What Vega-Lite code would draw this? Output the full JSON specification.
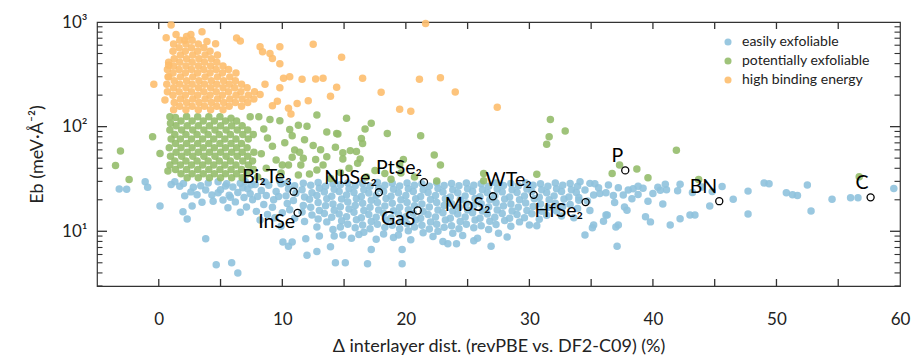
{
"$schema": "https://vega.github.io/schema/vega-lite/v6.json",
"width": 803, "height": 264,
"autosize": {"type": "none"},
"padding": {"left": 97, "top": 22, "right": 13, "bottom": 73},
"background": "white",
"config": {
 "view": {"stroke": "#333", "strokeWidth": 1.2},
 "font": "Lato",
 "axis": {"domain": false, "grid": false, "ticks": true, "tickSize": 0, "tickOpacity": 0, "labelFont": "Lato", "labelFontSize": 17, "labelColor": "#222", "titleFont": "Lato", "titleFontSize": 18, "titleFontWeight": "normal", "titleColor": "#222", "labelFlush": false, "labelOverlap": false},
 "legend": {"labelFont": "Lato"}
},
"datasets": {
"pts": [
{"x":-3.2,"y":25.3,"g":"E"},{"x":-2.6,"y":25.2,"g":"E"},{"x":-1.1,"y":29.7,"g":"E"},{"x":-0.9,"y":26.3,"g":"E"},{"x":0.1,"y":17.4,"g":"E"},{"x":1.3,"y":29.7,"g":"E"},{"x":1.7,"y":27,"g":"E"},{"x":2.1,"y":21.8,"g":"E"},{"x":1.96,"y":15.4,"g":"E"},{"x":2.3,"y":13.1,"g":"E"},{"x":2.8,"y":26.3,"g":"E"},{"x":3.8,"y":24.8,"g":"E"},{"x":4.3,"y":22.2,"g":"E"},{"x":3.8,"y":8.5,"g":"E"},{"x":4.65,"y":4.8,"g":"E"},{"x":5.9,"y":5,"g":"E"},{"x":6.4,"y":4,"g":"E"},{"x":1,"y":28,"g":"E"},{"x":2,"y":28.6,"g":"E"},{"x":2.6,"y":23.8,"g":"E"},{"x":3.4,"y":27.3,"g":"E"},{"x":3.1,"y":22.4,"g":"E"},{"x":4,"y":28.9,"g":"E"},{"x":4.8,"y":23.3,"g":"E"},{"x":5.4,"y":27.1,"g":"E"},{"x":4.4,"y":19.4,"g":"E"},{"x":5.8,"y":21.1,"g":"E"},{"x":6.8,"y":26.1,"g":"E"},{"x":7.5,"y":27.9,"g":"E"},{"x":3.5,"y":18.9,"g":"E"},{"x":2.7,"y":17.4,"g":"E"},
{"x":5,"y":25,"g":"E"},{"x":5.2,"y":19.9,"g":"E"},{"x":5.7,"y":22.1,"g":"E"},{"x":6.2,"y":19.1,"g":"E"},{"x":6.9,"y":21,"g":"E"},{"x":7.1,"y":17.1,"g":"E"},{"x":7.6,"y":20,"g":"E"},{"x":7.9,"y":15.5,"g":"E"},{"x":8.5,"y":18,"g":"E"},{"x":8.8,"y":14.5,"g":"E"},{"x":9.3,"y":20,"g":"E"},{"x":10,"y":15,"g":"E"},{"x":5.5,"y":28.5,"g":"E"},{"x":6,"y":26.5,"g":"E"},{"x":6.6,"y":28.8,"g":"E"},{"x":7.2,"y":25.5,"g":"E"},{"x":7.8,"y":28,"g":"E"},{"x":8.3,"y":24.5,"g":"E"},{"x":8.9,"y":27.5,"g":"E"},{"x":9.5,"y":24,"g":"E"},{"x":9.9,"y":28.5,"g":"E"},{"x":6.4,"y":23.5,"g":"E"},{"x":7.4,"y":22.8,"g":"E"},{"x":8,"y":21.5,"g":"E"},{"x":8.7,"y":22,"g":"E"},{"x":9.2,"y":17,"g":"E"},{"x":9.7,"y":21.5,"g":"E"},{"x":5.6,"y":16.8,"g":"E"},{"x":6.6,"y":15.2,"g":"E"},{"x":8.2,"y":12.8,"g":"E"},{"x":9.4,"y":13.5,"g":"E"},{"x":9.9,"y":11.2,"g":"E"},{"x":10.05,"y":7.9,"g":"E"},{"x":10.8,"y":7.9,"g":"E"},{"x":10.5,"y":7.2,"g":"E"},{"x":4.8,"y":29.8,"g":"E"},{"x":7,"y":29.9,"g":"E"},{"x":8.6,"y":29.6,"g":"E"},{"x":9.8,"y":30.2,"g":"E"},
{"x":12,"y":5.9,"g":"E"},{"x":12.8,"y":6.4,"g":"E"},{"x":11.9,"y":8.5,"g":"E"},{"x":13.9,"y":7.1,"g":"E"},{"x":14.3,"y":5,"g":"E"},{"x":15.1,"y":5,"g":"E"},{"x":16.9,"y":4.9,"g":"E"},{"x":19.7,"y":4.9,"g":"E"},{"x":17.2,"y":6.7,"g":"E"},{"x":19.7,"y":6.7,"g":"E"},{"x":23.4,"y":7.6,"g":"E"},{"x":24.1,"y":7.6,"g":"E"},{"x":26.9,"y":7.2,"g":"E"},{"x":25.5,"y":8.1,"g":"E"},{"x":37.1,"y":7.2,"g":"E"},{"x":28.2,"y":8.8,"g":"E"},{"x":14.9,"y":9.2,"g":"E"},{"x":14.2,"y":9,"g":"E"},
{"x":13,"y":9,"g":"E"},{"x":15.6,"y":8.6,"g":"E"},{"x":16.2,"y":9.3,"g":"E"},{"x":17.6,"y":8.4,"g":"E"},{"x":19,"y":8.7,"g":"E"},{"x":20.4,"y":8.3,"g":"E"},{"x":22.2,"y":8.9,"g":"E"},{"x":23,"y":8,"g":"E"},{"x":24.6,"y":9.1,"g":"E"},{"x":25.8,"y":8.6,"g":"E"},{"x":27.5,"y":9.6,"g":"E"},
{"x":34.1,"y":29.7,"g":"E"},{"x":34.9,"y":28.7,"g":"E"},{"x":35.3,"y":28.5,"g":"E"},{"x":34.5,"y":24.8,"g":"E"},{"x":35.2,"y":22.2,"g":"E"},{"x":35.7,"y":23,"g":"E"},{"x":36.2,"y":23.3,"g":"E"},{"x":36.4,"y":27.7,"g":"E"},{"x":36.8,"y":22,"g":"E"},{"x":37.2,"y":26.1,"g":"E"},{"x":37.6,"y":22.2,"g":"E"},{"x":38,"y":24.8,"g":"E"},{"x":38.4,"y":25.5,"g":"E"},{"x":38.8,"y":27,"g":"E"},{"x":38.8,"y":22.5,"g":"E"},{"x":40,"y":23,"g":"E"},{"x":40.4,"y":26.3,"g":"E"},{"x":41,"y":28.2,"g":"E"},{"x":41.1,"y":25,"g":"E"},{"x":40.6,"y":24.7,"g":"E"},{"x":42.2,"y":28.2,"g":"E"},{"x":42,"y":24.4,"g":"E"},{"x":40.8,"y":18.2,"g":"E"},{"x":37.7,"y":17.1,"g":"E"},{"x":37.9,"y":15.9,"g":"E"},{"x":36.2,"y":14.3,"g":"E"},{"x":35.2,"y":11.5,"g":"E"},{"x":35.1,"y":10.8,"g":"E"},{"x":36,"y":12.5,"g":"E"},{"x":37.2,"y":11.5,"g":"E"},{"x":39.4,"y":13.8,"g":"E"},{"x":39.8,"y":12.3,"g":"E"},{"x":41.4,"y":11.5,"g":"E"},{"x":42.2,"y":13.2,"g":"E"},{"x":43,"y":14.3,"g":"E"},{"x":43.4,"y":14.3,"g":"E"},{"x":44.6,"y":17.4,"g":"E"},{"x":46.5,"y":20.2,"g":"E"},{"x":47.7,"y":24.2,"g":"E"},{"x":47.7,"y":14.6,"g":"E"},{"x":49,"y":29,"g":"E"},{"x":49.4,"y":28.5,"g":"E"},{"x":50.8,"y":23.3,"g":"E"},{"x":51.3,"y":22.4,"g":"E"},{"x":51.7,"y":22,"g":"E"},{"x":52.5,"y":27.7,"g":"E"},{"x":52.8,"y":15.6,"g":"E"},{"x":54.5,"y":20.2,"g":"E"},{"x":56,"y":20.9,"g":"E"},{"x":56.6,"y":20.9,"g":"E"},{"x":59.5,"y":25.7,"g":"E"},
{"x":30,"y":11.5,"g":"E"},{"x":30.6,"y":11.3,"g":"E"},{"x":34.5,"y":9.2,"g":"E"},{"x":36.3,"y":14.3,"g":"E"},{"x":37,"y":11,"g":"E"},{"x":34,"y":21,"g":"E"},{"x":34.7,"y":19.5,"g":"E"},{"x":35.6,"y":26,"g":"E"},{"x":36.9,"y":18.8,"g":"E"},{"x":38.3,"y":20.5,"g":"E"},{"x":39.2,"y":25.8,"g":"E"},{"x":39.6,"y":19.4,"g":"E"},{"x":43.2,"y":23.5,"g":"E"},{"x":44,"y":26.5,"g":"E"},{"x":44.8,"y":24,"g":"E"},{"x":45.6,"y":26.8,"g":"E"},{"x":33.6,"y":13.5,"g":"E"},{"x":34.9,"y":15.8,"g":"E"},
{"x":10.4,"y":29,"g":"E"},{"x":10.5,"y":25.3,"g":"E"},{"x":10.3,"y":21.8,"g":"E"},{"x":10.4,"y":18.4,"g":"E"},{"x":10.6,"y":16.1,"g":"E"},
{"x":11,"y":27.2,"g":"E"},{"x":11.1,"y":23.1,"g":"E"},{"x":10.9,"y":19.7,"g":"E"},{"x":11,"y":13.3,"g":"E"},
{"x":11.7,"y":28.8,"g":"E"},{"x":11.6,"y":25,"g":"E"},{"x":11.8,"y":21.3,"g":"E"},{"x":11.7,"y":17.6,"g":"E"},{"x":11.6,"y":15.3,"g":"E"},{"x":11.8,"y":12.4,"g":"E"},
{"x":12.3,"y":27.5,"g":"E"},{"x":12.4,"y":23.4,"g":"E"},{"x":12.2,"y":20.2,"g":"E"},{"x":12.3,"y":17,"g":"E"},{"x":12.4,"y":14.3,"g":"E"},
{"x":12.9,"y":29.2,"g":"E"},{"x":13,"y":25.8,"g":"E"},{"x":12.8,"y":22,"g":"E"},{"x":12.9,"y":18.8,"g":"E"},{"x":13,"y":15.8,"g":"E"},{"x":12.9,"y":13.1,"g":"E"},{"x":12.8,"y":11,"g":"E"},
{"x":13.5,"y":27,"g":"E"},{"x":13.4,"y":23.8,"g":"E"},{"x":13.6,"y":20.5,"g":"E"},{"x":13.5,"y":17.5,"g":"E"},{"x":13.4,"y":14.8,"g":"E"},{"x":13.6,"y":12.3,"g":"E"},
{"x":14.1,"y":28.5,"g":"E"},{"x":14.2,"y":25.2,"g":"E"},{"x":14,"y":21.6,"g":"E"},{"x":14.1,"y":18.2,"g":"E"},{"x":14.2,"y":15.9,"g":"E"},{"x":14,"y":13.6,"g":"E"},{"x":14.1,"y":10.4,"g":"E"},
{"x":14.7,"y":27.8,"g":"E"},{"x":14.6,"y":24,"g":"E"},{"x":14.8,"y":20.3,"g":"E"},{"x":14.7,"y":17.2,"g":"E"},{"x":14.6,"y":14.6,"g":"E"},{"x":14.8,"y":12.6,"g":"E"},{"x":14.7,"y":11,"g":"E"},
{"x":15.3,"y":29,"g":"E"},{"x":15.4,"y":25.5,"g":"E"},{"x":15.2,"y":22.2,"g":"E"},{"x":15.3,"y":19,"g":"E"},{"x":15.4,"y":16.3,"g":"E"},{"x":15.2,"y":13.8,"g":"E"},{"x":15.3,"y":11.7,"g":"E"},
{"x":15.9,"y":27.3,"g":"E"},{"x":15.8,"y":23.5,"g":"E"},{"x":16,"y":20.5,"g":"E"},{"x":15.9,"y":17.6,"g":"E"},{"x":15.8,"y":15.2,"g":"E"},{"x":16,"y":12.9,"g":"E"},{"x":15.9,"y":10.8,"g":"E"},
{"x":16.5,"y":28.6,"g":"E"},{"x":16.6,"y":25,"g":"E"},{"x":16.4,"y":21.5,"g":"E"},{"x":16.5,"y":18.5,"g":"E"},{"x":16.6,"y":15.8,"g":"E"},{"x":16.4,"y":13.5,"g":"E"},{"x":16.5,"y":11.5,"g":"E"},{"x":16.6,"y":9.8,"g":"E"},
{"x":17.1,"y":27,"g":"E"},{"x":17,"y":23.2,"g":"E"},{"x":17.2,"y":19.8,"g":"E"},{"x":17.1,"y":17,"g":"E"},{"x":17,"y":14.5,"g":"E"},{"x":17.2,"y":12.4,"g":"E"},{"x":17.1,"y":10.6,"g":"E"},
{"x":17.7,"y":29.3,"g":"E"},{"x":17.8,"y":25.8,"g":"E"},{"x":17.6,"y":22,"g":"E"},{"x":17.7,"y":18.8,"g":"E"},{"x":17.8,"y":16,"g":"E"},{"x":17.6,"y":13.6,"g":"E"},{"x":17.7,"y":11.7,"g":"E"},
{"x":18.3,"y":27.5,"g":"E"},{"x":18.2,"y":24,"g":"E"},{"x":18.4,"y":20.6,"g":"E"},{"x":18.3,"y":17.4,"g":"E"},{"x":18.2,"y":14.9,"g":"E"},{"x":18.4,"y":12.8,"g":"E"},{"x":18.3,"y":10.9,"g":"E"},{"x":18.2,"y":9.4,"g":"E"},
{"x":18.9,"y":28.8,"g":"E"},{"x":19,"y":25.2,"g":"E"},{"x":18.8,"y":21.6,"g":"E"},{"x":18.9,"y":18.5,"g":"E"},{"x":19,"y":15.7,"g":"E"},{"x":18.8,"y":13.4,"g":"E"},{"x":18.9,"y":11.4,"g":"E"},
{"x":19.5,"y":27.1,"g":"E"},{"x":19.4,"y":23.4,"g":"E"},{"x":19.6,"y":20,"g":"E"},{"x":19.5,"y":17,"g":"E"},{"x":19.4,"y":14.6,"g":"E"},{"x":19.6,"y":12.4,"g":"E"},{"x":19.5,"y":10.6,"g":"E"},{"x":19.4,"y":9.2,"g":"E"},
{"x":20.1,"y":29,"g":"E"},{"x":20.2,"y":25.5,"g":"E"},{"x":20,"y":22,"g":"E"},{"x":20.1,"y":18.8,"g":"E"},{"x":20.2,"y":16.1,"g":"E"},{"x":20,"y":13.8,"g":"E"},{"x":20.1,"y":11.8,"g":"E"},{"x":20.2,"y":10.1,"g":"E"},
{"x":20.7,"y":27.6,"g":"E"},{"x":20.6,"y":24,"g":"E"},{"x":20.8,"y":20.5,"g":"E"},{"x":20.7,"y":17.5,"g":"E"},{"x":20.6,"y":14.9,"g":"E"},{"x":20.8,"y":12.8,"g":"E"},{"x":20.7,"y":11,"g":"E"},
{"x":21.3,"y":28.4,"g":"E"},{"x":21.4,"y":25,"g":"E"},{"x":21.2,"y":21.5,"g":"E"},{"x":21.3,"y":18.2,"g":"E"},{"x":21.4,"y":15.5,"g":"E"},{"x":21.2,"y":13.3,"g":"E"},{"x":21.3,"y":11.4,"g":"E"},{"x":21.4,"y":9.7,"g":"E"},
{"x":21.9,"y":27,"g":"E"},{"x":21.8,"y":23.5,"g":"E"},{"x":22,"y":20.1,"g":"E"},{"x":21.9,"y":17.1,"g":"E"},{"x":21.8,"y":14.5,"g":"E"},{"x":22,"y":12.3,"g":"E"},{"x":21.9,"y":10.5,"g":"E"},
{"x":22.5,"y":29.1,"g":"E"},{"x":22.6,"y":25.6,"g":"E"},{"x":22.4,"y":22,"g":"E"},{"x":22.5,"y":18.8,"g":"E"},{"x":22.6,"y":16,"g":"E"},{"x":22.4,"y":13.7,"g":"E"},{"x":22.5,"y":11.7,"g":"E"},{"x":22.6,"y":10,"g":"E"},
{"x":23.1,"y":27.4,"g":"E"},{"x":23,"y":23.8,"g":"E"},{"x":23.2,"y":20.5,"g":"E"},{"x":23.1,"y":17.6,"g":"E"},{"x":23,"y":15,"g":"E"},{"x":23.2,"y":12.8,"g":"E"},{"x":23.1,"y":10.9,"g":"E"},
{"x":23.7,"y":28.6,"g":"E"},{"x":23.8,"y":25,"g":"E"},{"x":23.6,"y":21.3,"g":"E"},{"x":23.7,"y":18.3,"g":"E"},{"x":23.8,"y":15.6,"g":"E"},{"x":23.6,"y":13.3,"g":"E"},{"x":23.7,"y":11.3,"g":"E"},{"x":23.8,"y":9.6,"g":"E"},
{"x":24.3,"y":27.2,"g":"E"},{"x":24.2,"y":23.4,"g":"E"},{"x":24.4,"y":20,"g":"E"},{"x":24.3,"y":17,"g":"E"},{"x":24.2,"y":14.6,"g":"E"},{"x":24.4,"y":12.4,"g":"E"},{"x":24.3,"y":10.6,"g":"E"},
{"x":24.9,"y":29,"g":"E"},{"x":25,"y":25.5,"g":"E"},{"x":24.8,"y":21.8,"g":"E"},{"x":24.9,"y":18.6,"g":"E"},{"x":25,"y":16,"g":"E"},{"x":24.8,"y":13.7,"g":"E"},{"x":24.9,"y":11.7,"g":"E"},
{"x":25.5,"y":27.6,"g":"E"},{"x":25.4,"y":24,"g":"E"},{"x":25.6,"y":20.6,"g":"E"},{"x":25.5,"y":17.6,"g":"E"},{"x":25.4,"y":15,"g":"E"},{"x":25.6,"y":12.8,"g":"E"},{"x":25.5,"y":10.8,"g":"E"},
{"x":26.1,"y":28.4,"g":"E"},{"x":26.2,"y":25,"g":"E"},{"x":26,"y":21.4,"g":"E"},{"x":26.1,"y":18.3,"g":"E"},{"x":26.2,"y":15.6,"g":"E"},{"x":26,"y":13.3,"g":"E"},{"x":26.1,"y":11.3,"g":"E"},
{"x":26.7,"y":27,"g":"E"},{"x":26.6,"y":23.3,"g":"E"},{"x":26.8,"y":20,"g":"E"},{"x":26.7,"y":17.1,"g":"E"},{"x":26.6,"y":14.6,"g":"E"},{"x":26.8,"y":12.5,"g":"E"},{"x":26.7,"y":10.4,"g":"E"},
{"x":27.3,"y":29,"g":"E"},{"x":27.4,"y":25.4,"g":"E"},{"x":27.2,"y":21.8,"g":"E"},{"x":27.3,"y":18.7,"g":"E"},{"x":27.4,"y":16,"g":"E"},{"x":27.2,"y":13.6,"g":"E"},{"x":27.3,"y":11.6,"g":"E"},
{"x":27.9,"y":27.4,"g":"E"},{"x":27.8,"y":23.8,"g":"E"},{"x":28,"y":20.3,"g":"E"},{"x":27.9,"y":17.4,"g":"E"},{"x":27.8,"y":14.8,"g":"E"},{"x":28,"y":12.7,"g":"E"},
{"x":28.5,"y":28.6,"g":"E"},{"x":28.6,"y":25,"g":"E"},{"x":28.4,"y":21.3,"g":"E"},{"x":28.5,"y":18.2,"g":"E"},{"x":28.6,"y":15.6,"g":"E"},{"x":28.4,"y":13.3,"g":"E"},{"x":28.5,"y":11.2,"g":"E"},
{"x":29.1,"y":27.2,"g":"E"},{"x":29,"y":23.5,"g":"E"},{"x":29.2,"y":20,"g":"E"},{"x":29.1,"y":17,"g":"E"},{"x":29,"y":14.5,"g":"E"},{"x":29.2,"y":12.3,"g":"E"},
{"x":29.7,"y":29,"g":"E"},{"x":29.8,"y":25.4,"g":"E"},{"x":29.6,"y":21.7,"g":"E"},{"x":29.7,"y":18.6,"g":"E"},{"x":29.8,"y":15.8,"g":"E"},{"x":29.6,"y":13.5,"g":"E"},
{"x":30.3,"y":27.6,"g":"E"},{"x":30.2,"y":24,"g":"E"},{"x":30.4,"y":20.5,"g":"E"},{"x":30.3,"y":17.3,"g":"E"},{"x":30.2,"y":14.7,"g":"E"},
{"x":30.9,"y":28.5,"g":"E"},{"x":31,"y":25,"g":"E"},{"x":30.8,"y":21.2,"g":"E"},{"x":30.9,"y":18.2,"g":"E"},{"x":31,"y":15.5,"g":"E"},{"x":30.8,"y":13,"g":"E"},
{"x":31.5,"y":27,"g":"E"},{"x":31.4,"y":23.4,"g":"E"},{"x":31.6,"y":20,"g":"E"},{"x":31.5,"y":16.9,"g":"E"},{"x":31.4,"y":14.2,"g":"E"},
{"x":32.1,"y":29,"g":"E"},{"x":32.2,"y":25.5,"g":"E"},{"x":32,"y":21.8,"g":"E"},{"x":32.1,"y":18.5,"g":"E"},{"x":32.2,"y":15.6,"g":"E"},
{"x":32.7,"y":27.5,"g":"E"},{"x":32.6,"y":24,"g":"E"},{"x":32.8,"y":20.4,"g":"E"},{"x":32.7,"y":17.3,"g":"E"},{"x":32.6,"y":14,"g":"E"},
{"x":33.3,"y":28.6,"g":"E"},{"x":33.4,"y":25,"g":"E"},{"x":33.2,"y":21.3,"g":"E"},{"x":33.3,"y":18,"g":"E"},
{"x":33.9,"y":27,"g":"E"},{"x":33.8,"y":23.5,"g":"E"},{"x":34,"y":19.8,"g":"E"},{"x":33.9,"y":16.5,"g":"E"},
{"x":0.9,"y":93,"g":"P"},{"x":1,"y":76,"g":"P"},{"x":0.85,"y":63,"g":"P"},{"x":0.95,"y":52,"g":"P"},{"x":0.9,"y":43,"g":"P"},{"x":0.9,"y":124,"g":"P"},{"x":0.95,"y":108,"g":"P"},
{"x":1.35,"y":122,"g":"P"},{"x":1.4,"y":102,"g":"P"},{"x":1.3,"y":84,"g":"P"},{"x":1.35,"y":69,"g":"P"},{"x":1.4,"y":57,"g":"P"},{"x":1.3,"y":47,"g":"P"},{"x":1.35,"y":39,"g":"P"},
{"x":1.8,"y":113,"g":"P"},{"x":1.85,"y":93,"g":"P"},{"x":1.75,"y":76,"g":"P"},{"x":1.8,"y":63,"g":"P"},{"x":1.85,"y":52,"g":"P"},{"x":1.75,"y":43,"g":"P"},{"x":1.8,"y":35.5,"g":"P"},
{"x":2.25,"y":125,"g":"P"},{"x":2.3,"y":102,"g":"P"},{"x":2.2,"y":84,"g":"P"},{"x":2.25,"y":69,"g":"P"},{"x":2.3,"y":57,"g":"P"},{"x":2.2,"y":47,"g":"P"},{"x":2.25,"y":39,"g":"P"},{"x":2.3,"y":32.5,"g":"P"},
{"x":2.7,"y":113,"g":"P"},{"x":2.75,"y":93,"g":"P"},{"x":2.65,"y":76,"g":"P"},{"x":2.7,"y":63,"g":"P"},{"x":2.75,"y":52,"g":"P"},{"x":2.65,"y":43,"g":"P"},{"x":2.7,"y":35.5,"g":"P"},
{"x":3.15,"y":124,"g":"P"},{"x":3.2,"y":102,"g":"P"},{"x":3.1,"y":84,"g":"P"},{"x":3.15,"y":69,"g":"P"},{"x":3.2,"y":57,"g":"P"},{"x":3.1,"y":47,"g":"P"},{"x":3.15,"y":39,"g":"P"},{"x":3.2,"y":32.5,"g":"P"},
{"x":3.6,"y":113,"g":"P"},{"x":3.65,"y":93,"g":"P"},{"x":3.55,"y":76,"g":"P"},{"x":3.6,"y":63,"g":"P"},{"x":3.65,"y":52,"g":"P"},{"x":3.55,"y":43,"g":"P"},{"x":3.6,"y":35.5,"g":"P"},
{"x":4.05,"y":124,"g":"P"},{"x":4.1,"y":102,"g":"P"},{"x":4,"y":84,"g":"P"},{"x":4.05,"y":69,"g":"P"},{"x":4.1,"y":57,"g":"P"},{"x":4,"y":47,"g":"P"},{"x":4.05,"y":39,"g":"P"},{"x":4.1,"y":32.5,"g":"P"},
{"x":4.5,"y":113,"g":"P"},{"x":4.55,"y":93,"g":"P"},{"x":4.45,"y":76,"g":"P"},{"x":4.5,"y":63,"g":"P"},{"x":4.55,"y":52,"g":"P"},{"x":4.45,"y":43,"g":"P"},{"x":4.5,"y":35.5,"g":"P"},
{"x":4.95,"y":124,"g":"P"},{"x":5,"y":102,"g":"P"},{"x":4.9,"y":84,"g":"P"},{"x":4.95,"y":69,"g":"P"},{"x":5,"y":57,"g":"P"},{"x":4.9,"y":47,"g":"P"},{"x":4.95,"y":39,"g":"P"},{"x":5,"y":32.5,"g":"P"},
{"x":5.4,"y":113,"g":"P"},{"x":5.45,"y":93,"g":"P"},{"x":5.35,"y":76,"g":"P"},{"x":5.4,"y":63,"g":"P"},{"x":5.45,"y":52,"g":"P"},{"x":5.35,"y":43,"g":"P"},{"x":5.4,"y":35.5,"g":"P"},
{"x":5.85,"y":120,"g":"P"},{"x":5.9,"y":102,"g":"P"},{"x":5.8,"y":84,"g":"P"},{"x":5.85,"y":69,"g":"P"},{"x":5.9,"y":57,"g":"P"},{"x":5.8,"y":47,"g":"P"},{"x":5.85,"y":39,"g":"P"},{"x":5.9,"y":32.5,"g":"P"},
{"x":6.3,"y":113,"g":"P"},{"x":6.35,"y":93,"g":"P"},{"x":6.25,"y":76,"g":"P"},{"x":6.3,"y":63,"g":"P"},{"x":6.35,"y":52,"g":"P"},{"x":6.25,"y":43,"g":"P"},{"x":6.3,"y":35.5,"g":"P"},
{"x":6.75,"y":102,"g":"P"},{"x":6.8,"y":84,"g":"P"},{"x":6.7,"y":69,"g":"P"},{"x":6.75,"y":57,"g":"P"},{"x":6.8,"y":47,"g":"P"},{"x":6.7,"y":39,"g":"P"},{"x":6.75,"y":32.5,"g":"P"},
{"x":7.2,"y":93,"g":"P"},{"x":7.25,"y":76,"g":"P"},{"x":7.15,"y":63,"g":"P"},{"x":7.2,"y":52,"g":"P"},{"x":7.25,"y":43,"g":"P"},{"x":7.15,"y":35.5,"g":"P"},
{"x":7.65,"y":84,"g":"P"},{"x":7.7,"y":57,"g":"P"},{"x":7.6,"y":47,"g":"P"},{"x":7.65,"y":39,"g":"P"},
{"x":-3.1,"y":58.6,"g":"P"},{"x":-3.5,"y":42.6,"g":"P"},{"x":-2.4,"y":31.3,"g":"P"},{"x":-0.5,"y":80,"g":"P"},{"x":0.1,"y":55.5,"g":"P"},{"x":0.74,"y":37.6,"g":"P"},
{"x":7.4,"y":124,"g":"P"},{"x":8.1,"y":124,"g":"P"},{"x":9,"y":117,"g":"P"},{"x":9.8,"y":114,"g":"P"},{"x":10.6,"y":94,"g":"P"},{"x":11.3,"y":103,"g":"P"},{"x":12,"y":101,"g":"P"},{"x":12.8,"y":129,"g":"P"},{"x":13.6,"y":89,"g":"P"},{"x":14.5,"y":85,"g":"P"},{"x":11,"y":59.7,"g":"P"},{"x":11.4,"y":57,"g":"P"},{"x":10.8,"y":51,"g":"P"},{"x":10.5,"y":43,"g":"P"},{"x":11.5,"y":43,"g":"P"},{"x":12.7,"y":48.6,"g":"P"},{"x":13.6,"y":51.6,"g":"P"},{"x":12.8,"y":38.5,"g":"P"},{"x":12.2,"y":35.3,"g":"P"},{"x":11.3,"y":34.5,"g":"P"},{"x":10,"y":43,"g":"P"},
{"x":8.5,"y":95,"g":"P"},{"x":8.8,"y":78,"g":"P"},{"x":9.2,"y":65,"g":"P"},{"x":8.3,"y":55,"g":"P"},{"x":9.5,"y":48,"g":"P"},{"x":8.7,"y":40,"g":"P"},{"x":9.9,"y":36,"g":"P"},{"x":8,"y":33,"g":"P"},{"x":10.2,"y":70,"g":"P"},{"x":10.8,"y":82,"g":"P"},{"x":11.8,"y":75,"g":"P"},{"x":12.5,"y":66,"g":"P"},{"x":13.1,"y":60,"g":"P"},{"x":11.7,"y":50,"g":"P"},{"x":13.3,"y":43,"g":"P"},
{"x":31.7,"y":117,"g":"P"},{"x":32.9,"y":90.7,"g":"P"},{"x":31.6,"y":80,"g":"P"},{"x":31.4,"y":68,"g":"P"},{"x":22.3,"y":53.5,"g":"P"},{"x":18.5,"y":86,"g":"P"},{"x":16.7,"y":94.8,"g":"P"},{"x":14.4,"y":86,"g":"P"},{"x":16.4,"y":77,"g":"P"},{"x":16.5,"y":69,"g":"P"},{"x":14.3,"y":63.4,"g":"P"},{"x":14.9,"y":56.3,"g":"P"},{"x":15.5,"y":59,"g":"P"},{"x":16,"y":58,"g":"P"},{"x":19.8,"y":48.6,"g":"P"},{"x":14.9,"y":49,"g":"P"},{"x":16.3,"y":49,"g":"P"},{"x":22.8,"y":43,"g":"P"},
{"x":16.1,"y":44.6,"g":"P"},{"x":19.5,"y":42.9,"g":"P"},{"x":22.5,"y":30.3,"g":"P"},{"x":18.3,"y":35.7,"g":"P"},{"x":26.3,"y":35.7,"g":"P"},{"x":26.3,"y":30.4,"g":"P"},{"x":30.6,"y":35.1,"g":"P"},{"x":36.7,"y":35.7,"g":"P"},
{"x":41.9,"y":59.5,"g":"P"},{"x":38.7,"y":39.3,"g":"P"},{"x":37.3,"y":42.9,"g":"P"},{"x":39.6,"y":32.5,"g":"P"},{"x":43.7,"y":31.3,"g":"P"},{"x":56.7,"y":33.2,"g":"P"},
{"x":13.9,"y":32,"g":"P"},{"x":14.7,"y":36.5,"g":"P"},{"x":15.4,"y":40,"g":"P"},{"x":16.8,"y":33,"g":"P"},{"x":17.5,"y":38,"g":"P"},{"x":18.8,"y":31.5,"g":"P"},{"x":19.6,"y":36,"g":"P"},{"x":20.7,"y":33,"g":"P"},{"x":15.2,"y":120,"g":"P"},{"x":17.2,"y":108,"g":"P"},{"x":21.2,"y":82,"g":"P"},
{"x":0.7,"y":216,"g":"H"},{"x":0.65,"y":254,"g":"H"},{"x":0.75,"y":299,"g":"H"},{"x":0.7,"y":351,"g":"H"},{"x":0.8,"y":412,"g":"H"},
{"x":1.2,"y":145,"g":"H"},{"x":1.25,"y":170,"g":"H"},{"x":1.15,"y":200,"g":"H"},{"x":1.2,"y":235,"g":"H"},{"x":1.25,"y":275,"g":"H"},{"x":1.15,"y":325,"g":"H"},{"x":1.2,"y":380,"g":"H"},{"x":1.25,"y":445,"g":"H"},{"x":1.15,"y":525,"g":"H"},{"x":1.2,"y":615,"g":"H"},
{"x":1.7,"y":157,"g":"H"},{"x":1.75,"y":184,"g":"H"},{"x":1.65,"y":216,"g":"H"},{"x":1.7,"y":254,"g":"H"},{"x":1.75,"y":299,"g":"H"},{"x":1.65,"y":351,"g":"H"},{"x":1.7,"y":412,"g":"H"},{"x":1.75,"y":484,"g":"H"},{"x":1.65,"y":569,"g":"H"},{"x":1.7,"y":668,"g":"H"},
{"x":2.2,"y":145,"g":"H"},{"x":2.25,"y":170,"g":"H"},{"x":2.15,"y":200,"g":"H"},{"x":2.2,"y":235,"g":"H"},{"x":2.25,"y":275,"g":"H"},{"x":2.15,"y":325,"g":"H"},{"x":2.2,"y":380,"g":"H"},{"x":2.25,"y":445,"g":"H"},{"x":2.15,"y":525,"g":"H"},{"x":2.2,"y":615,"g":"H"},{"x":2.25,"y":725,"g":"H"},
{"x":2.7,"y":157,"g":"H"},{"x":2.75,"y":184,"g":"H"},{"x":2.65,"y":216,"g":"H"},{"x":2.7,"y":254,"g":"H"},{"x":2.75,"y":299,"g":"H"},{"x":2.65,"y":351,"g":"H"},{"x":2.7,"y":412,"g":"H"},{"x":2.75,"y":484,"g":"H"},{"x":2.65,"y":569,"g":"H"},{"x":2.7,"y":668,"g":"H"},
{"x":3.2,"y":145,"g":"H"},{"x":3.25,"y":170,"g":"H"},{"x":3.15,"y":200,"g":"H"},{"x":3.2,"y":235,"g":"H"},{"x":3.25,"y":275,"g":"H"},{"x":3.15,"y":325,"g":"H"},{"x":3.2,"y":380,"g":"H"},{"x":3.25,"y":445,"g":"H"},{"x":3.15,"y":525,"g":"H"},{"x":3.2,"y":615,"g":"H"},
{"x":3.7,"y":157,"g":"H"},{"x":3.75,"y":184,"g":"H"},{"x":3.65,"y":216,"g":"H"},{"x":3.7,"y":254,"g":"H"},{"x":3.75,"y":299,"g":"H"},{"x":3.65,"y":351,"g":"H"},{"x":3.7,"y":412,"g":"H"},{"x":3.75,"y":484,"g":"H"},{"x":3.65,"y":569,"g":"H"},
{"x":4.2,"y":145,"g":"H"},{"x":4.25,"y":170,"g":"H"},{"x":4.15,"y":200,"g":"H"},{"x":4.2,"y":235,"g":"H"},{"x":4.25,"y":275,"g":"H"},{"x":4.15,"y":325,"g":"H"},{"x":4.2,"y":380,"g":"H"},{"x":4.25,"y":445,"g":"H"},{"x":4.15,"y":525,"g":"H"},
{"x":4.7,"y":157,"g":"H"},{"x":4.75,"y":184,"g":"H"},{"x":4.65,"y":216,"g":"H"},{"x":4.7,"y":254,"g":"H"},{"x":4.75,"y":299,"g":"H"},{"x":4.65,"y":351,"g":"H"},{"x":4.7,"y":412,"g":"H"},{"x":4.75,"y":484,"g":"H"},
{"x":5.2,"y":145,"g":"H"},{"x":5.25,"y":170,"g":"H"},{"x":5.15,"y":200,"g":"H"},{"x":5.2,"y":235,"g":"H"},{"x":5.25,"y":275,"g":"H"},{"x":5.15,"y":325,"g":"H"},{"x":5.2,"y":380,"g":"H"},
{"x":5.7,"y":157,"g":"H"},{"x":5.75,"y":184,"g":"H"},{"x":5.65,"y":216,"g":"H"},{"x":5.7,"y":254,"g":"H"},{"x":5.75,"y":299,"g":"H"},{"x":5.65,"y":351,"g":"H"},
{"x":6.2,"y":170,"g":"H"},{"x":6.25,"y":200,"g":"H"},{"x":6.15,"y":235,"g":"H"},{"x":6.2,"y":275,"g":"H"},{"x":6.25,"y":325,"g":"H"},
{"x":6.7,"y":157,"g":"H"},{"x":6.75,"y":184,"g":"H"},{"x":6.65,"y":216,"g":"H"},{"x":6.7,"y":254,"g":"H"},
{"x":7.2,"y":170,"g":"H"},{"x":7.25,"y":200,"g":"H"},{"x":7.15,"y":235,"g":"H"},
{"x":7.7,"y":184,"g":"H"},{"x":7.75,"y":216,"g":"H"},
{"x":1,"y":935,"g":"H"},{"x":0.6,"y":708,"g":"H"},{"x":2.1,"y":670,"g":"H"},{"x":3.5,"y":807,"g":"H"},{"x":3.9,"y":650,"g":"H"},{"x":4.6,"y":620,"g":"H"},{"x":6.3,"y":703,"g":"H"},{"x":6.6,"y":660,"g":"H"},{"x":2.6,"y":760,"g":"H"},{"x":1.4,"y":760,"g":"H"},{"x":0.8,"y":386,"g":"H"},{"x":0.8,"y":300,"g":"H"},{"x":0.5,"y":180,"g":"H"},{"x":-0.4,"y":254,"g":"H"},
{"x":8.2,"y":580,"g":"H"},{"x":9.8,"y":580,"g":"H"},{"x":12.5,"y":612,"g":"H"},{"x":14.8,"y":460,"g":"H"},{"x":14.4,"y":238,"g":"H"},{"x":13.9,"y":195,"g":"H"},{"x":13.3,"y":290,"g":"H"},{"x":12.7,"y":285,"g":"H"},{"x":12.1,"y":177,"g":"H"},{"x":11.2,"y":166,"g":"H"},{"x":10.7,"y":132,"g":"H"},{"x":10.5,"y":150,"g":"H"},{"x":10.1,"y":290,"g":"H"},{"x":10.6,"y":300,"g":"H"},{"x":11.6,"y":283,"g":"H"},{"x":9.8,"y":235,"g":"H"},{"x":8.6,"y":254,"g":"H"},{"x":9.2,"y":158,"g":"H"},{"x":9.6,"y":175,"g":"H"},{"x":8.2,"y":203,"g":"H"},{"x":9.2,"y":448,"g":"H"},{"x":9,"y":500,"g":"H"},{"x":8.4,"y":520,"g":"H"},{"x":9.8,"y":400,"g":"H"},
{"x":21.6,"y":970,"g":"H"},{"x":16.5,"y":290,"g":"H"},{"x":18,"y":213,"g":"H"},{"x":21.1,"y":283,"g":"H"},{"x":22.8,"y":294,"g":"H"},{"x":24,"y":214,"g":"H"},{"x":19.5,"y":147,"g":"H"},{"x":20.4,"y":140,"g":"H"},{"x":27.4,"y":153,"g":"H"}
],
"lab": [
{"name":"Bi₂Te₃","x":10.92,"y":23.9,"pos":"above"},
{"name":"InSe","x":11.24,"y":15.0,"pos":"below"},
{"name":"NbSe₂","x":17.82,"y":23.6,"pos":"above"},
{"name":"PtSe₂","x":21.47,"y":29.5,"pos":"above"},
{"name":"GaS","x":20.96,"y":15.8,"pos":"below"},
{"name":"MoS₂","x":27.05,"y":21.6,"pos":"below"},
{"name":"WTe₂","x":30.35,"y":22.3,"pos":"above"},
{"name":"HfSe₂","x":34.55,"y":19.0,"pos":"below"},
{"name":"P","x":37.76,"y":38.2,"pos":"above"},
{"name":"BN","x":45.37,"y":19.4,"pos":"above"},
{"name":"C","x":57.62,"y":21.1,"pos":"above"}
],
"ymajor": [{"v":10},{"v":100},{"v":1000}],
"yminor": [{"v":3},{"v":4},{"v":5},{"v":6},{"v":7},{"v":8},{"v":9},{"v":20},{"v":30},{"v":40},{"v":50},{"v":60},{"v":70},{"v":80},{"v":90},{"v":200},{"v":300},{"v":400},{"v":500},{"v":600},{"v":700},{"v":800},{"v":900}],
"xticks": [{"v":0},{"v":5},{"v":10},{"v":15},{"v":20},{"v":25},{"v":30},{"v":35},{"v":40},{"v":45},{"v":50},{"v":55}]
},
"resolve": {"axis": {"x": "independent", "y": "independent"}},
"layer": [
{
 "data": {"name": "pts"},
 "mark": {"type": "circle", "size": 56, "opacity": 0.9},
 "encoding": {
  "x": {"field": "x", "type": "quantitative", "scale": {"domain": [-5, 60], "nice": false, "zero": false},
        "axis": {"orient": "bottom", "title": "Δ interlayer dist. (revPBE vs. DF2-C09) (%)", "values": [0,10,20,30,40,50,60], "tickSize": 0, "labelPadding": 25, "titlePadding": 10}},
  "y": {"field": "y", "type": "quantitative", "scale": {"type": "log", "domain": [3, 1000], "nice": false},
        "axis": {"orient": "left", "title": "Eb (meV·Å⁻²)", "values": [10, 100, 1000], "labelExpr": "datum.value == 1000 ? '10³' : datum.value == 100 ? '10²' : '10¹'", "tickSize": 0, "labelPadding": 10, "titlePadding": 15}},
  "color": {"field": "g", "type": "nominal", "scale": {"domain": ["E", "P", "H"], "range": ["#8fc2dd", "#95bd6b", "#fdbe6e"]},
        "legend": {"orient": "none", "legendX": 624, "legendY": 13, "title": null, "padding": 0, "labelExpr": "datum.value == 'E' ? 'easily exfoliable' : datum.value == 'P' ? 'potentially exfoliable' : 'high binding energy'", "symbolType": "circle", "symbolSize": 50, "symbolOpacity": 0.9, "symbolStrokeWidth": 0, "labelFontSize": 14, "labelColor": "#222", "rowPadding": 5, "labelOffset": 7}}
 }
},
{
 "data": {"name": "lab"},
 "mark": {"type": "point", "shape": "circle", "filled": false, "stroke": "black", "strokeWidth": 1.3, "size": 50, "opacity": 1},
 "encoding": {
  "x": {"field": "x", "type": "quantitative", "scale": {"domain": [-5, 60], "nice": false, "zero": false}, "axis": null},
  "y": {"field": "y", "type": "quantitative", "scale": {"type": "log", "domain": [3, 1000], "nice": false}, "axis": null}
 }
},
{
 "data": {"name": "lab"},
 "transform": [{"filter": "datum.pos == 'above'"}],
 "mark": {"type": "text", "align": "right", "baseline": "alphabetic", "dx": -2, "dy": -8.5, "font": "Lato", "fontSize": 19.5, "color": "black"},
 "encoding": {
  "x": {"field": "x", "type": "quantitative", "scale": {"domain": [-5, 60], "nice": false, "zero": false}, "axis": null},
  "y": {"field": "y", "type": "quantitative", "scale": {"type": "log", "domain": [3, 1000], "nice": false}, "axis": null},
  "text": {"field": "name"}
 }
},
{
 "data": {"name": "lab"},
 "transform": [{"filter": "datum.pos == 'below'"}],
 "mark": {"type": "text", "align": "right", "baseline": "alphabetic", "dx": -2.5, "dy": 15, "font": "Lato", "fontSize": 19.5, "color": "black"},
 "encoding": {
  "x": {"field": "x", "type": "quantitative", "scale": {"domain": [-5, 60], "nice": false, "zero": false}, "axis": null},
  "y": {"field": "y", "type": "quantitative", "scale": {"type": "log", "domain": [3, 1000], "nice": false}, "axis": null},
  "text": {"field": "name"}
 }
},
{
 "data": {"name": "ymajor"},
 "mark": {"type": "tick", "orient": "horizontal", "size": 20, "thickness": 1.3, "color": "#333", "opacity": 1, "clip": true},
 "encoding": {
  "x": {"datum": -5, "type": "quantitative", "scale": {"domain": [-5, 60], "nice": false, "zero": false}, "axis": null},
  "y": {"field": "v", "type": "quantitative", "scale": {"type": "log", "domain": [3, 1000], "nice": false}, "axis": null}
 }
},
{
 "data": {"name": "ymajor"},
 "mark": {"type": "tick", "orient": "horizontal", "size": 20, "thickness": 1.3, "color": "#333", "opacity": 1, "clip": true},
 "encoding": {
  "x": {"datum": 60, "type": "quantitative", "scale": {"domain": [-5, 60], "nice": false, "zero": false}, "axis": null},
  "y": {"field": "v", "type": "quantitative", "scale": {"type": "log", "domain": [3, 1000], "nice": false}, "axis": null}
 }
},
{
 "data": {"name": "yminor"},
 "mark": {"type": "tick", "orient": "horizontal", "size": 11, "thickness": 1.1, "color": "#333", "opacity": 1, "clip": true},
 "encoding": {
  "x": {"datum": -5, "type": "quantitative", "scale": {"domain": [-5, 60], "nice": false, "zero": false}, "axis": null},
  "y": {"field": "v", "type": "quantitative", "scale": {"type": "log", "domain": [3, 1000], "nice": false}, "axis": null}
 }
},
{
 "data": {"name": "yminor"},
 "mark": {"type": "tick", "orient": "horizontal", "size": 11, "thickness": 1.1, "color": "#333", "opacity": 1, "clip": true},
 "encoding": {
  "x": {"datum": 60, "type": "quantitative", "scale": {"domain": [-5, 60], "nice": false, "zero": false}, "axis": null},
  "y": {"field": "v", "type": "quantitative", "scale": {"type": "log", "domain": [3, 1000], "nice": false}, "axis": null}
 }
},
{
 "data": {"name": "xticks"},
 "mark": {"type": "tick", "orient": "vertical", "size": 14, "thickness": 1.3, "color": "#333", "opacity": 1, "clip": true},
 "encoding": {
  "x": {"field": "v", "type": "quantitative", "scale": {"domain": [-5, 60], "nice": false, "zero": false}, "axis": null},
  "y": {"datum": 3, "type": "quantitative", "scale": {"type": "log", "domain": [3, 1000], "nice": false}, "axis": null}
 }
},
{
 "data": {"name": "xticks"},
 "mark": {"type": "tick", "orient": "vertical", "size": 14, "thickness": 1.3, "color": "#333", "opacity": 1, "clip": true},
 "encoding": {
  "x": {"field": "v", "type": "quantitative", "scale": {"domain": [-5, 60], "nice": false, "zero": false}, "axis": null},
  "y": {"datum": 1000, "type": "quantitative", "scale": {"type": "log", "domain": [3, 1000], "nice": false}, "axis": null}
 }
}
]
}
